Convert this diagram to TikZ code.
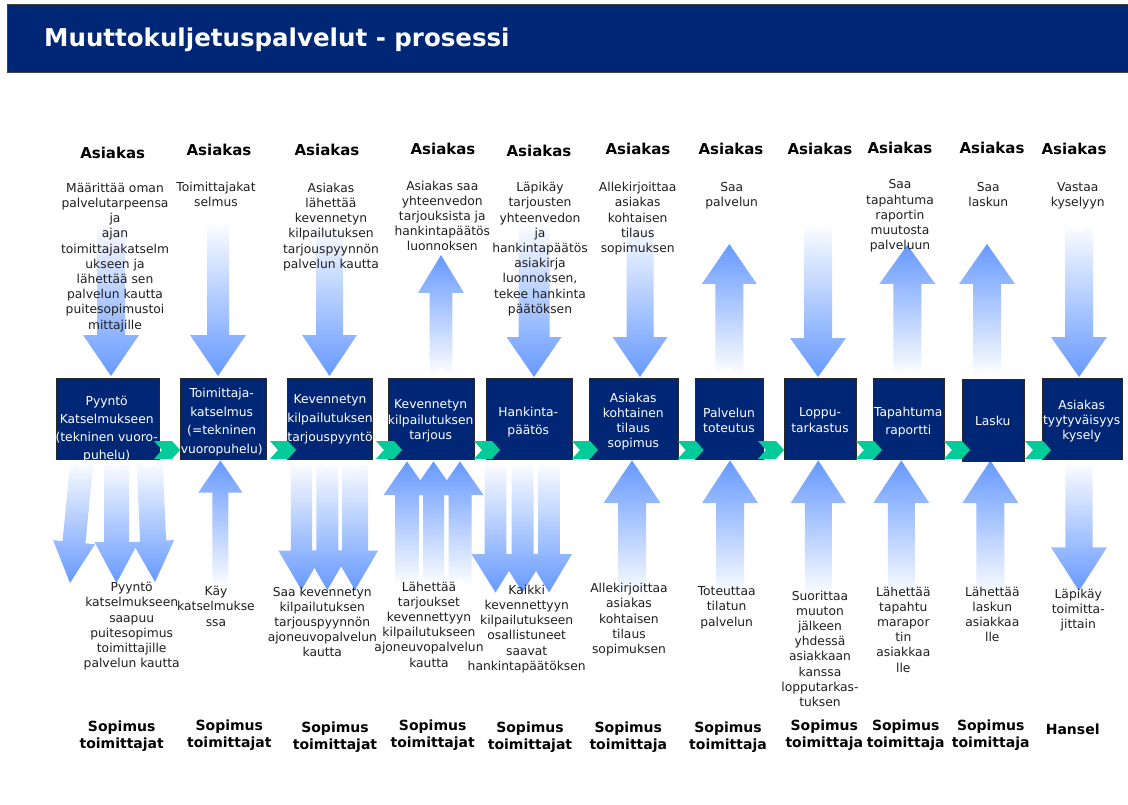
\documentclass[tikz,border=0pt]{standalone}
\usepackage{fontspec}
\setmainfont{DejaVu Sans}
\usetikzlibrary{calc}
\definecolor{navy}{RGB}{0,39,118}
\definecolor{ablue}{RGB}{102,153,255}
\definecolor{chevgreen}{RGB}{0,204,153}
\definecolor{boxedge}{RGB}{40,40,40}
\tikzset{
  box/.style={draw=boxedge, fill=navy, line width=0.9pt, inner sep=0pt, anchor=north west},
  txt/.style={anchor=north, inner sep=0pt, align=center, font=\fontsize{12.3}{15.2}\selectfont, text=black!88},
  btxt/.style={anchor=north, inner sep=0pt, align=center, text=white, font=\fontsize{12.3}{#1}\selectfont},
  hdr/.style={anchor=north, inner sep=0pt, align=center, font=\fontsize{15}{17}\selectfont\bfseries},
  ftr/.style={anchor=north, inner sep=0pt, align=center, font=\fontsize{14}{17}\selectfont\bfseries},
  dnshade/.style={top color=white, bottom color=ablue},
  upshade/.style={top color=ablue, bottom color=white},
}
% vertical arrows: #1 x centre, #2 tail y, #3 head base y, #4 tip y, #5 shaft half width, #6 head half width
\newcommand\arrDn[6]{\shade[dnshade] (#1-#5,#2) -- (#1,#2+8) -- (#1+#5,#2) -- (#1+#5,#3) -- (#1+#6,#3) -- (#1,#4) -- (#1-#6,#3) -- (#1-#5,#3) -- cycle;}
\newcommand\arrUp[6]{\shade[upshade] (#1-#5,#2) -- (#1,#2-8) -- (#1+#5,#2) -- (#1+#5,#3) -- (#1+#6,#3) -- (#1,#4) -- (#1-#6,#3) -- (#1-#5,#3) -- cycle;}
% tilted arrow: #1 tail, #2 tip, #3 head length, #4 shaft half, #5 head half
\newcommand\arrTilt[5]{%
  \coordinate (tT) at (#1); \coordinate (tP) at (#2);
  \coordinate (tB) at ($(tP)!#3pt!(tT)$);
  \shade[dnshade] ($(tT)!#4pt!90:(tP)$) -- ($(tT)!8pt!(tP)$) -- ($(tT)!#4pt!-90:(tP)$) -- ($(tB)!#4pt!-90:(tP)$) -- ($(tB)!#5pt!-90:(tP)$) -- (tP) -- ($(tB)!#5pt!90:(tP)$) -- ($(tB)!#4pt!90:(tP)$) -- cycle;}
\newcommand\chev[1]{\fill[chevgreen] (#1,441) -- (#1+18,441) -- (#1+26,450) -- (#1+18,459) -- (#1,459) -- (#1+8,450) -- cycle;}

\begin{document}
\begin{tikzpicture}[x=1pt,y=-1pt]
\useasboundingbox (0,0) rectangle (1128,805);
\fill[white] (0,0) rectangle (1128,805);

% title bar
\node[draw=black!75, fill=navy, line width=1pt, anchor=north west, minimum width=1128pt, minimum height=68pt, inner sep=0pt] (bar) at (7,4) {};
\node[anchor=base west, inner sep=0pt, text=white, font=\fontsize{24.5}{28}\selectfont\bfseries] (title) at (44,47) {Muuttokuljetuspalvelut - prosessi};

% ---------- top arrows ----------
\arrDn{111}{220}{335}{376}{14}{28}
\arrDn{218}{220}{335}{376}{11}{28}
\arrDn{329.5}{222}{335}{376}{13.5}{27.5}
\arrUp{441}{376}{293}{255}{11.3}{23}
\arrDn{534}{220}{337}{377}{15.5}{27.5}
\arrDn{640}{220}{337}{377}{13.5}{27.5}
\arrUp{729.3}{376}{284}{244}{14}{27.5}
\arrDn{818}{222}{338}{377}{14}{28}
\arrUp{907.3}{376}{284}{245}{14}{28}
\arrUp{987}{376}{284}{244}{14}{28}
\arrDn{1079}{222}{337}{377}{14}{28}

% ---------- bottom arrows ----------
\arrTilt{82,460}{70,583}{41}{11.5}{21}
\arrDn{116.5}{460}{542}{583}{12.5}{22}
\arrTilt{149.5,460}{155,582}{41}{13}{21}
\arrUp{220.4}{589}{492.5}{460.4}{8}{22}
\arrDn{301.5}{460}{550.7}{590}{10.7}{23}
\arrDn{327.3}{460}{550.7}{590}{11}{23}
\arrDn{355}{460}{550.7}{590}{13}{23}
\arrUp{407}{587}{495}{461.4}{11.8}{23.5}
\arrUp{433.5}{587}{495}{461.4}{10.5}{23.5}
\arrUp{460}{587}{495}{461.4}{11.5}{23.5}
\arrDn{495.5}{460}{554}{592.5}{10.8}{24}
\arrDn{522.5}{460}{554}{592.5}{11}{24}
\arrDn{549}{460}{554}{592.5}{10.8}{23}
\arrUp{632}{598}{503}{460.4}{14}{28.5}
\arrUp{730}{598}{503}{460.4}{14}{28}
\arrUp{818.3}{598}{503}{460.4}{13.5}{27.6}
\arrUp{901.3}{598}{503}{460.4}{13.5}{28}
\arrUp{990.4}{598}{503}{460.4}{14}{28}
\arrDn{1079}{460}{547.4}{590.9}{13.6}{28}

% ---------- process boxes ----------
\node[box, minimum width=103.3pt, minimum height=81pt] (b1) at (55.7,378) {};
\node[box, minimum width=85.7pt, minimum height=81pt] (b2) at (180,378) {};
\node[box, minimum width=85.3pt, minimum height=81pt] (b3) at (286.7,378) {};
\node[box, minimum width=86pt, minimum height=81pt] (b4) at (388,378) {};
\node[box, minimum width=85.7pt, minimum height=81pt] (b5) at (486,378) {};
\node[box, minimum width=88.7pt, minimum height=81pt] (b6) at (589,378) {};
\node[box, minimum width=68pt, minimum height=81pt] (b7) at (695,378) {};
\node[box, minimum width=71.7pt, minimum height=81pt] (b8) at (784,378) {};
\node[box, minimum width=71.3pt, minimum height=81pt] (b9) at (872.7,378) {};
\node[box, minimum width=62.3pt, minimum height=81.7pt] (b10) at (961.7,379) {};
\node[box, minimum width=80pt, minimum height=81pt] (b11) at (1041.7,378) {};

% ---------- chevrons ----------
\chev{154}
\chev{270}
\chev{376}
\chev{474}
\chev{572}
\chev{677.7}
\chev{758}
\chev{856}
\chev{944}
\chev{1025}

% ---------- box texts ----------
\node[btxt=18.3] (bt1) at (106.7,395.5) {Pyyntö\\Katselmukseen\\(tekninen vuoro-\\puhelu)};
\node[btxt=18.5] (bt2) at (221.7,388.2) {Toimittaja-\\katselmus\\(=tekninen\\vuoropuhelu)};
\node[btxt=18.7] (bt3) at (330,394.8) {Kevennetyn\\kilpailutuksen\\tarjouspyyntö};
\node[btxt=15.5] (bt4) at (430.7,399.8) {Kevennetyn\\kilpailutuksen\\tarjous};
\node[btxt=18] (bt5) at (528.3,406.5) {Hankinta-\\päätös};
\node[btxt=15] (bt6) at (633.3,392.8) {Asiakas\\kohtainen\\tilaus\\sopimus};
\node[btxt=15] (bt7) at (729,408.2) {Palvelun\\toteutus};
\node[btxt=16.6] (bt8) at (820,407.2) {Loppu-\\tarkastus};
\node[btxt=18.3] (bt9) at (908.3,406.5) {Tapahtuma\\raportti};
\node[btxt=15] (bt10) at (992.7,416.2) {Lasku};
\node[btxt=15] (bt11) at (1081.7,399.8) {Asiakas\\tyytyväisyys\\kysely};

% ---------- headers ----------
\node[hdr] (h1) at (112.7,147.2) {Asiakas};
\node[hdr] (h2) at (219,143.5) {Asiakas};
\node[hdr] (h3) at (327,143.5) {Asiakas};
\node[hdr] (h4) at (443,142.5) {Asiakas};
\node[hdr] (h5) at (539,144.5) {Asiakas};
\node[hdr] (h6) at (638,142.5) {Asiakas};
\node[hdr] (h7) at (731,142.5) {Asiakas};
\node[hdr] (h8) at (820,142.5) {Asiakas};
\node[hdr] (h9) at (900,141.5) {Asiakas};
\node[hdr] (h10) at (992,141.5) {Asiakas};
\node[hdr] (h11) at (1074,142.5) {Asiakas};

% ---------- top texts ----------
\node[txt] (t1) at (115,182.8) {Määrittää oman\\palvelutarpeensa\\ja\\ajan\\toimittajakatselm\\ukseen ja\\lähettää sen\\palvelun kautta\\puitesopimustoi\\mittajille};
\node[txt] (t2) at (216,182.2) {Toimittajakat\\selmus};
\node[txt] (t3) at (331,182.8) {Asiakas\\lähettää\\kevennetyn\\kilpailutuksen\\tarjouspyynnön\\palvelun kautta};
\node[txt] (t4) at (442.3,180.5) {Asiakas saa\\yhteenvedon\\tarjouksista ja\\hankintapäätös\\luonnoksen};
\node[txt] (t5) at (540,182.2) {Läpikäy\\tarjousten\\yhteenvedon\\ja\\hankintapäätös\\asiakirja\\luonnoksen,\\tekee hankinta\\päätöksen};
\node[txt] (t6) at (637.7,182.2) {Allekirjoittaa\\asiakas\\kohtaisen\\tilaus\\sopimuksen};
\node[txt] (t7) at (731.7,182.2) {Saa\\palvelun};
\node[txt] (t9) at (900,179.5) {Saa\\tapahtuma\\raportin\\muutosta\\palveluun};
\node[txt] (t10) at (988.3,182.2) {Saa\\laskun};
\node[txt] (t11) at (1077.7,182.2) {Vastaa\\kyselyyn};

% ---------- bottom texts ----------
\node[txt] (u1) at (131.7,582.2) {Pyyntö\\katselmukseen\\saapuu\\puitesopimus\\toimittajille\\palvelun kautta};
\node[txt] (u2) at (216,586.2) {Käy\\katselmukse\\ssa};
\node[txt] (u3) at (322.3,586.5) {Saa kevennetyn\\kilpailutuksen\\tarjouspyynnön\\ajoneuvopalvelun\\kautta};
\node[txt] (u4) at (429,581.5) {Lähettää\\tarjoukset\\kevennettyyn\\kilpailutukseen\\ajoneuvopalvelun\\kautta};
\node[txt] (u5) at (526.7,584.8) {Kaikki\\kevennettyyn\\kilpailutukseen\\osallistuneet\\saavat\\hankintapäätöksen};
\node[txt] (u6) at (629,583.2) {Allekirjoittaa\\asiakas\\kohtaisen\\tilaus\\sopimuksen};
\node[txt] (u7) at (726.7,586.5) {Toteuttaa\\tilatun\\palvelun};
\node[txt] (u8) at (820,590.5) {Suorittaa\\muuton\\jälkeen\\yhdessä\\asiakkaan\\kanssa\\lopputarkas-\\tuksen};
\node[txt] (u9) at (903.3,586.5) {Lähettää\\tapahtu\\marapor\\tin\\asiakkaa\\lle};
\node[txt] (u10) at (992.3,586.5) {Lähettää\\laskun\\asiakkaa\\lle};
\node[txt] (u11) at (1078.3,588.8) {Läpikäy\\toimitta-\\jittain};

% ---------- footers ----------
\node[ftr] (f1) at (121.7,720.5) {Sopimus\\toimittajat};
\node[ftr] (f2) at (229.3,719.5) {Sopimus\\toimittajat};
\node[ftr] (f3) at (335,721.5) {Sopimus\\toimittajat};
\node[ftr] (f4) at (432.7,719.8) {Sopimus\\toimittajat};
\node[ftr] (f5) at (530,721.5) {Sopimus\\toimittajat};
\node[ftr] (f6) at (628.3,721.5) {Sopimus\\toimittaja};
\node[ftr] (f7) at (728,722) {Sopimus\\toimittaja};
\node[ftr] (f8) at (824.3,719.8) {Sopimus\\toimittaja};
\node[ftr] (f9) at (905.7,719.8) {Sopimus\\toimittaja};
\node[ftr] (f10) at (990.7,719.8) {Sopimus\\toimittaja};
\node[ftr] (f11) at (1072.7,724.1) {Hansel};
\end{tikzpicture}
\end{document}
